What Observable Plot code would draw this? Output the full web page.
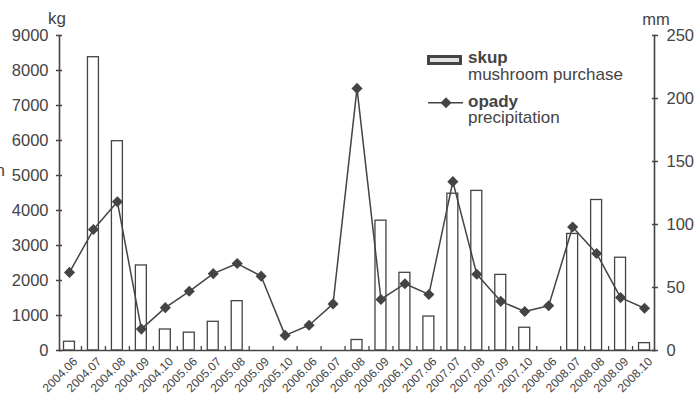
<!DOCTYPE html>
<html>
<head>
<meta charset="utf-8">
<script src="https://cdn.jsdelivr.net/npm/d3@7"></script>
<script src="https://cdn.jsdelivr.net/npm/@observablehq/plot@0.6"></script>
<style>
  body { margin: 0; background: #fff; }
  #wrap { position: relative; width: 694px; height: 395px; font-family: "Liberation Sans", Arial, sans-serif; }
  #wrap svg.overlay { position: absolute; left: 0; top: 0; pointer-events: none; }
</style>
</head>
<body>
<div id="wrap"></div>
<script>
// Categories (month of year)
const months = ["2004.06","2004.07","2004.08","2004.09","2004.10",
  "2005.06","2005.07","2005.08","2005.09","2005.10",
  "2006.06","2006.07","2006.08","2006.09","2006.10",
  "2007.06","2007.07","2007.08","2007.09","2007.10",
  "2008.06","2008.07","2008.08","2008.09","2008.10"];
// Mushroom purchase, kg (left axis)
const skup = [250, 8380, 5980, 2430, 600, 510, 820, 1410, 0, 0,
  0, 0, 300, 3710, 2220, 970, 4480, 4560, 2160, 650,
  0, 3330, 4300, 2650, 210];
// Precipitation, mm (right axis)
const opady = [62, 96, 118, 17, 34, 47, 61, 69, 59, 12,
  20, 37, 208, 40.5, 53, 44.5, 134, 60.5, 39, 31,
  35.5, 98, 77, 42, 33.5];
const leftTicks = [0, 1000, 2000, 3000, 4000, 5000, 6000, 7000, 8000, 9000];
const rightTicks = [0, 50, 100, 150, 200, 250];

const K = 9000 / 250; // mm -> kg scale factor
const data = months.map((m, i) => ({month: m, skup: skup[i], opady: opady[i]}));
const ink = "#444";
const font = "'Liberation Sans', Arial, sans-serif";

const chart = Plot.plot({
  width: 694, height: 395,
  marginLeft: 59, marginRight: 40, marginTop: 35, marginBottom: 45,
  style: {fontFamily: font, fontSize: "16.5px", color: ink, background: "transparent", overflow: "visible"},
  x: {domain: months, range: [57, 656], padding: 0, round: false, axis: null},
  y: {domain: [0, 9000], axis: null},
  marks: [
    Plot.barY(data.filter(d => d.skup > 0), {x: "month", y: "skup", fill: "white", stroke: ink, strokeWidth: 1.3, insetLeft: 6.5, insetRight: 6.5}),
    Plot.ruleX(data.slice(0, -1), {x: "month", y1: 0, y2: 115, dx: 12, stroke: ink, strokeWidth: 1.3}),
    Plot.line(data, {x: "month", y: d => d.opady * K, stroke: ink, strokeWidth: 1.5}),
    Plot.dot(data, {x: "month", y: d => d.opady * K, symbol: "diamond2", r: 5, fill: ink, stroke: "none"}),
    Plot.frame({anchor: "left", stroke: ink, strokeWidth: 1.6}),
    Plot.frame({anchor: "right", stroke: ink, strokeWidth: 1.6}),
    Plot.frame({anchor: "bottom", stroke: ink, strokeWidth: 1.6}),
    Plot.axisY({anchor: "left", ticks: leftTicks, tickFormat: d => String(d), tickSize: 6, dx: 3, tickPadding: 8, label: null, color: ink, strokeWidth: 1.5, fontSize: 16.5}),
    Plot.axisY({anchor: "right", ticks: rightTicks.map(v => v * K), tickFormat: d => String(Math.round(d / K)), tickSize: 6, dx: -3, tickPadding: 9, label: null, color: ink, strokeWidth: 1.5, fontSize: 16.5}),
    Plot.text(data, {x: "month", y: 0, text: "month", rotate: -45, textAnchor: "end", dx: 6, dy: 9, fontSize: 12, fill: ink})
  ]
});
document.getElementById("wrap").appendChild(chart);

// Legend and unit labels overlay
const NS = "http://www.w3.org/2000/svg";
const ov = document.createElementNS(NS, "svg");
ov.setAttribute("class", "overlay");
ov.setAttribute("width", 694); ov.setAttribute("height", 395);
ov.innerHTML = `
  <g font-family="${font}" fill="${ink}">
    <text x="57" y="24" font-size="17" text-anchor="middle">kg</text>
    <text x="656" y="25" font-size="16.5" text-anchor="middle">mm</text>
    <text x="5" y="176" font-size="17" text-anchor="end">n</text>
    <rect x="428.5" y="56.5" width="32" height="7" fill="#e3e3e3" stroke="${ink}" stroke-width="3"></rect>
    <text x="468" y="63" font-size="17" font-weight="bold">skup</text>
    <text x="468" y="80" font-size="17">mushroom purchase</text>
    <line x1="428" x2="463" y1="102.7" y2="102.7" stroke="${ink}" stroke-width="1.5"></line>
    <path d="M446,97.2L451.5,102.7L446,108.2L440.5,102.7Z" fill="${ink}"></path>
    <text x="468" y="107" font-size="17" font-weight="bold">opady</text>
    <text x="468" y="123" font-size="17">precipitation</text>
  </g>`;
document.getElementById("wrap").appendChild(ov);
</script>
</body>
</html>
